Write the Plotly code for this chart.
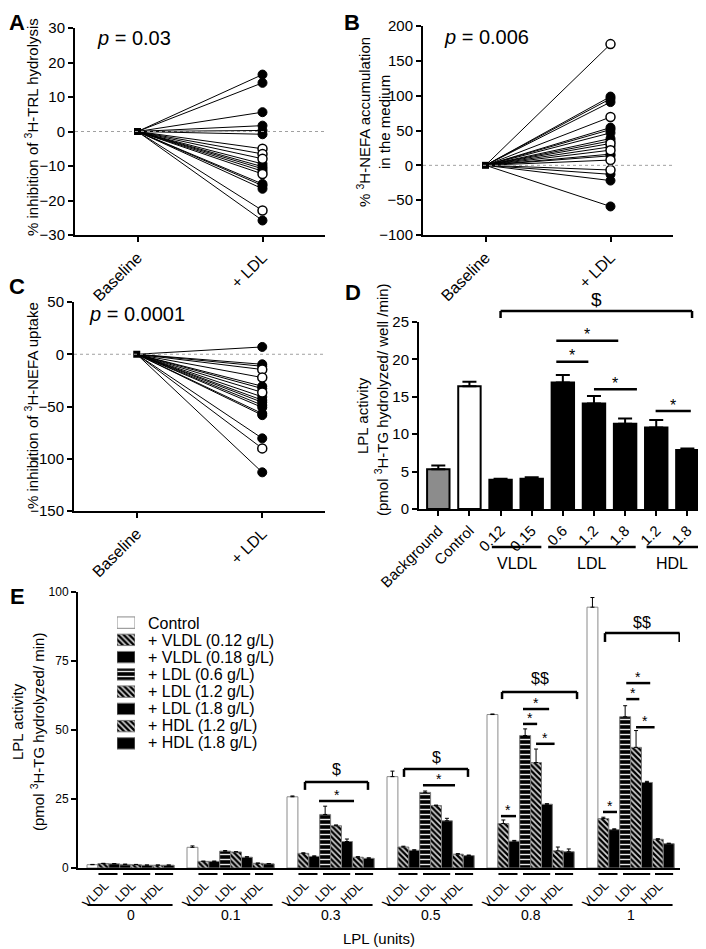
import plotly.graph_objects as go

# The page body adds an 8px margin; the figure is sized to fill the rest of the 706x949 window.
OFF = 8
W, H = 706 - OFF, 949 - OFF
FONT = "Liberation Sans, Arial, sans-serif"


def fx(px):
    return (px - OFF) / W


def fy(py):
    return 1 - (py - OFF) / H


# ---------------- data ----------------
pair_labels = ["Baseline", "+ LDL"]

# Panel A: % inhibition of 3H-TRL hydrolysis (+LDL values)
a_filled = [16.5, 14.1, 5.6, 1.7, 0.3, -0.8, -9.4, -10.2, -10.8, -11.5, -15.2, -15.7, -16.6, -25.8]
a_open = [-5.0, -6.5, -7.9, -12.3, -22.9]

# Panel B: % 3H-NEFA accumulation in the medium
b_filled = [98.7, 95.6, 90.8, 54.2, 51.3, 46.6, 38.5, 35.1, 26.6, 16.1, 13.7, -12.9, -21.9, -59.0]
b_open = [174.0, 69.4, 31.4, 21.8, 7.6, -6.7]

# Panel C: % inhibition of 3H-NEFA uptake
c_filled = [7.0, -9.6, -11.5, -30.6, -32.8, -40.8, -43.9, -46.0, -48.7, -50.9, -56.7, -58.3, -80.5, -113.0]
c_open = [-14.6, -22.3, -36.5, -90.1]

# Panel D: LPL activity
d_labels = ["Background", "Control", "0.12", "0.15", "0.6", "1.2", "1.8", "1.2", "1.8"]
d_means = [5.3, 16.4, 3.9, 4.05, 16.9, 14.1, 11.4, 10.9, 7.9]
d_sem = [0.5, 0.6, 0.15, 0.2, 1.0, 1.0, 0.7, 1.0, 0.2]
d_groups = ["VLDL", "LDL", "HDL"]

# Panel E: LPL activity vs LPL units
lpl_units = ["0", "0.1", "0.3", "0.5", "0.8", "1"]
e_series = ["Control", "+ VLDL (0.12 g/L)", "+ VLDL (0.18 g/L)", "+ LDL (0.6 g/L)",
            "+ LDL (1.2 g/L)", "+ LDL (1.8 g/L)", "+ HDL (1.2 g/L)", "+ HDL (1.8 g/L)"]
e_control = [1.2, 7.5, 25.8, 33.1, 55.6, 94.5]
e_vldl012 = [1.6, 2.4, 5.3, 7.6, 16.1, 17.9]
e_vldl018 = [1.5, 2.4, 4.2, 6.4, 9.7, 13.9]
e_ldl06 = [1.3, 6.1, 19.4, 27.4, 48.0, 54.8]
e_ldl12 = [1.2, 5.8, 15.3, 22.6, 38.2, 43.7]
e_ldl18 = [1.0, 3.9, 9.6, 17.1, 23.1, 31.0]
e_hdl12 = [1.0, 1.7, 3.9, 5.0, 6.2, 10.4]
e_hdl18 = [1.0, 1.5, 3.5, 4.5, 5.9, 8.8]
e_control_sem = [0.1, 0.5, 0.3, 2.0, 0.2, 3.5]
e_vldl012_sem = [0.1, 0.1, 0.2, 0.3, 1.3, 0.5]
e_vldl018_sem = [0.1, 0.1, 0.2, 0.2, 0.3, 0.3]
e_ldl06_sem = [0.1, 0.2, 3.0, 0.5, 2.4, 4.0]
e_ldl12_sem = [0.1, 0.1, 0.3, 0.2, 4.9, 6.1]
e_ldl18_sem = [0.1, 0.2, 0.9, 0.9, 0.2, 0.4]
e_hdl12_sem = [0.1, 0.1, 0.2, 0.2, 1.4, 0.2]
e_hdl18_sem = [0.1, 0.1, 0.2, 0.2, 1.0, 0.2]
e_values = [e_control, e_vldl012, e_vldl018, e_ldl06, e_ldl12, e_ldl18, e_hdl12, e_hdl18]
e_sems = [e_control_sem, e_vldl012_sem, e_vldl018_sem, e_ldl06_sem, e_ldl12_sem,
          e_ldl18_sem, e_hdl12_sem, e_hdl18_sem]

# ---------------- styles ----------------
STRIPE = dict(shape="\\", bgcolor="black", fgcolor="#d8d8d8", size=4, solidity=0.4, fillmode="replace")
HSTRIPE = dict(shape="-", bgcolor="black", fgcolor="#e8e8e8", size=5, solidity=0.28, fillmode="replace")
e_styles = [
    dict(color="white", line=dict(color="#8a8a8a", width=1)),
    dict(color="black", pattern=STRIPE, line=dict(color="#7a7a7a", width=1)),
    dict(color="black", line=dict(color="#7a7a7a", width=1)),
    dict(color="black", pattern=HSTRIPE, line=dict(color="#7a7a7a", width=1)),
    dict(color="black", pattern=STRIPE, line=dict(color="#7a7a7a", width=1)),
    dict(color="black", line=dict(color="#7a7a7a", width=1)),
    dict(color="black", pattern=STRIPE, line=dict(color="#7a7a7a", width=1)),
    dict(color="black", line=dict(color="#7a7a7a", width=1)),
]
d_colors = ["#8c8c8c", "white"] + ["black"] * 7

fig = go.Figure()


def pair_panel(vf, vo, xa, ya):
    xs, ys = [], []
    for v in vf + vo:
        xs += [0, 1, None]
        ys += [0, v, None]
    fig.add_trace(go.Scatter(x=xs, y=ys, mode="lines", line=dict(color="black", width=1),
                             xaxis=xa, yaxis=ya, showlegend=False, hoverinfo="skip"))
    fig.add_trace(go.Scatter(x=[0], y=[0], mode="markers", xaxis=xa, yaxis=ya, showlegend=False,
                             marker=dict(symbol="square", size=7, color="black")))
    fig.add_trace(go.Scatter(x=[1] * len(vf), y=vf, mode="markers", xaxis=xa, yaxis=ya, showlegend=False,
                             marker=dict(size=9, color="black", line=dict(color="black", width=1))))
    fig.add_trace(go.Scatter(x=[1] * len(vo), y=vo, mode="markers", xaxis=xa, yaxis=ya, showlegend=False,
                             marker=dict(size=9, color="white", line=dict(color="black", width=1.5))))


pair_panel(a_filled, a_open, "x", "y")
pair_panel(b_filled, b_open, "x2", "y2")
pair_panel(c_filled, c_open, "x3", "y3")

# Panel D bars
d_x = list(range(len(d_labels)))
fig.add_trace(go.Bar(x=d_x, y=d_means, width=0.72, xaxis="x4", yaxis="y4", showlegend=False,
                     marker=dict(color=d_colors, line=dict(color="black", width=2)),
                     error_y=dict(type="data", array=d_sem, arrayminus=[0] * len(d_sem), symmetric=False,
                                  color="black", thickness=2, width=7)))

# Panel E bars
GSTEP = 100 / 10.9
for i, (name, vals, sems, st) in enumerate(zip(e_series, e_values, e_sems, e_styles)):
    xs = [g * GSTEP + i for g in range(len(lpl_units))]
    fig.add_trace(go.Bar(x=xs, y=vals, width=1, xaxis="x5", yaxis="y5", name=name, showlegend=False,
                         marker=st,
                         error_y=dict(type="data", array=sems, arrayminus=[0] * len(sems), symmetric=False,
                                      color="black", thickness=1, width=2)))
    # manual legend swatch
    fig.add_trace(go.Bar(x=[1], y=[i], base=0, orientation="h", width=0.66, xaxis="x6", yaxis="y6",
                         showlegend=False, hoverinfo="skip", marker=st))

# ---------------- axes ----------------
AX = dict(showline=True, linecolor="black", linewidth=2, ticks="outside", ticklen=5, tickwidth=2,
          tickcolor="black", showgrid=False, zeroline=False, automargin=False,
          tickfont=dict(size=15, color="black"))


def xa_pair(dom, anchor):
    return dict(AX, domain=dom, anchor=anchor, range=[-0.5, 1.5], tickvals=[0, 1], ticktext=pair_labels,
                tickangle=-45, tickfont=dict(size=16, color="black"))


lay = dict(
    width=W, height=H, autosize=False, margin=dict(l=0, r=0, t=0, b=0, autoexpand=False),
    paper_bgcolor="white", plot_bgcolor="white", font=dict(family=FONT, color="black"),
    barmode="overlay", showlegend=False,
    xaxis=xa_pair([fx(75), fx(325)], "y"),
    yaxis=dict(AX, domain=[fy(235), fy(28)], anchor="x", range=[-30, 30], dtick=10),
    xaxis2=xa_pair([fx(423), fx(673)], "y2"),
    yaxis2=dict(AX, domain=[fy(235), fy(26)], anchor="x2", range=[-100, 200], dtick=50),
    xaxis3=xa_pair([fx(74), fx(325)], "y3"),
    yaxis3=dict(AX, domain=[fy(511), fy(302)], anchor="x3", range=[-150, 50], dtick=50),
    xaxis4=dict(AX, domain=[fx(419), fx(702)], anchor="y4", range=[-0.62, 8.47], tickvals=d_x,
                ticktext=d_labels, tickangle=-45),
    yaxis4=dict(AX, domain=[fy(509), fy(322)], anchor="x4", range=[0, 25], dtick=5),
    xaxis5=dict(AX, domain=[fx(78), fx(680)], anchor="y5", range=[-0.5 - 9 / 10.9, -0.5 - 9 / 10.9 + 602 / 10.9],
                ticks="", showticklabels=False),
    yaxis5=dict(AX, domain=[fy(868), fy(592)], anchor="x5", range=[0, 100], dtick=25,
                tickfont=dict(size=12, color="black")),
    xaxis6=dict(domain=[fx(117), fx(135)], anchor="y6", range=[0, 1], visible=False, fixedrange=True,
                automargin=False),
    yaxis6=dict(domain=[fy(752), fy(614)], anchor="x6", range=[7.5, -0.5], visible=False, fixedrange=True,
                automargin=False),
)
fig.update_layout(**lay)

annotations = []
shapes = []


def ann(text, x, y, size=15, xref="paper", yref="paper", **kw):
    d = dict(text=text, x=x, y=y, xref=xref, yref=yref, showarrow=False, font=dict(size=size, color="black"),
             xanchor="center", yanchor="middle")
    d.update(kw)
    annotations.append(d)


def line(x0, y0, x1, y1, xref="paper", yref="paper", w=2, color="black", dash=None):
    ln = dict(color=color, width=w)
    if dash:
        ln["dash"] = dash
    shapes.append(dict(type="line", x0=x0, y0=y0, x1=x1, y1=y1, xref=xref, yref=yref, line=ln))


# panel letters (kept just inside the figure's left/top edge)
for lt, px, py in [("A", 17, 23), ("B", 352, 23), ("C", 17, 287), ("D", 353, 292), ("E", 17, 596)]:
    ann("<b>%s</b>" % lt, fx(px), fy(py), size=22)

# zero dotted lines
for xr, yr in [("x domain", "y"), ("x2 domain", "y2"), ("x3 domain", "y3")]:
    line(0, 0, 1, 0, xref=xr, yref=yr, w=1, color="#a0a0a0", dash="dot")

# p values
ann("<i>p</i> = 0.03", fx(95), fy(38), size=20, xanchor="left")
ann("<i>p</i> = 0.006", fx(442), fy(37), size=20, xanchor="left")
ann("<i>p</i> = 0.0001", fx(87), fy(314), size=20, xanchor="left")

# y titles
ann("% inhibition of <sup>3</sup>H-TRL hydrolysis", fx(32), fy(127), textangle=-90)
ann("% <sup>3</sup>H-NEFA accumulation<br>in the medium", fx(373), fy(122), textangle=-90)
ann("% inhibition of <sup>3</sup>H-NEFA uptake", fx(32), fy(406), textangle=-90)
ann("LPL activity", fx(362), fy(416), textangle=-90)
ann("(pmol <sup>3</sup>H-TG hydrolyzed/ well /min)", fx(381), fy(400), textangle=-90)
ann("LPL activity", fx(17), fy(722), textangle=-90)
ann("(pmol <sup>3</sup>H-TG hydrolyzed/ min)", fx(37), fy(732), textangle=-90)

# ---- panel D annotations
line(2.0, fy(311), 8.15, fy(311), xref="x4", w=2.5)
line(2.0, fy(311), 2.0, fy(318), xref="x4", w=2.5)
line(8.15, fy(311), 8.15, fy(318), xref="x4", w=2.5)
ann("$", 5.07, fy(300), size=19, xref="x4")
d_stars = [(3.79, 4.82, 19.7), (3.79, 5.78, 22.5), (5.0, 6.38, 16.0), (6.98, 8.11, 13.1)]
for s0, s1, yy in d_stars:
    line(s0, yy, s1, yy, xref="x4", yref="y4", w=2.5)
    ann("*", (s0 + s1) / 2, yy, size=16, xref="x4", yref="y4", yshift=6)
for (s0, s1), gname in zip([(1.72, 3.31), (3.53, 6.34), (6.69, 8.35)], d_groups):
    line(s0, fy(547), s1, fy(547), xref="x4", w=2.5)
    ann(gname, (s0 + s1) / 2, fy(563), size=16, xref="x4")


# ---- panel E annotations
def ex(g, i):
    return g * GSTEP + i


for g, u in enumerate(lpl_units):
    for (s0, s1), gname, c in zip([(0.55, 2.3), (2.8, 5.3), (5.74, 7.4)], ["VLDL", "LDL", "HDL"],
                                  [1.5, 4, 6.5]):
        line(ex(g, s0), fy(874), ex(g, s1), fy(874), xref="x5")
        ann(gname, ex(g, c), fy(876), size=12.5, xref="x5", textangle=-45, xanchor="right", yanchor="top",
            xshift=5)
    line(ex(g, -0.45), fy(905), ex(g, 7.35), fy(905), xref="x5")
    ann(u, ex(g, 3.5), fy(915), size=14, xref="x5")
ann("LPL (units)", fx(379), fy(938), size=15)

e_brackets = [(2, 1.15, 6.93, 31.2, 28.3, "$", 35.8), (3, 1.06, 6.93, 35.9, 33.0, "$", 40.2),
              (4, 0.88, 7.76, 63.8, 61.2, "$$", 68.7), (5, 1.15, 8.0, 85.1, 81.9, "$$", 89.0)]
for g, s0, s1, top, bot, txt, ty in e_brackets:
    line(ex(g, s0), top, ex(g, s1), top, xref="x5", yref="y5", w=2.5)
    line(ex(g, s0), top, ex(g, s0), bot, xref="x5", yref="y5", w=2.5)
    line(ex(g, s1), top, ex(g, s1), bot, xref="x5", yref="y5", w=2.5)
    ann(txt, ex(g, (s0 + s1) / 2), ty, size=16, xref="x5", yref="y5")

e_stars = [(2, 2.44, 5.65, 24.3), (3, 2.8, 5.74, 30.0),
           (4, 0.78, 2.16, 18.8), (4, 2.8, 4.1, 52.2), (4, 2.8, 5.2, 57.6), (4, 4.0, 5.7, 45.0),
           (5, 0.97, 2.25, 20.3), (5, 3.1, 4.3, 61.2), (5, 3.1, 5.3, 67.0), (5, 4.0, 5.7, 51.0)]
for g, s0, s1, yy in e_stars:
    line(ex(g, s0), yy, ex(g, s1), yy, xref="x5", yref="y5", w=2.5)
    ann("*", ex(g, (s0 + s1) / 2), yy, size=14, xref="x5", yref="y5", yshift=6)

for i, name in enumerate(e_series):
    ann(name, fx(146), fy(623 + 17.14 * i), size=16, xanchor="left")

fig.update_layout(annotations=annotations, shapes=shapes)
fig.write_html("out.html")
